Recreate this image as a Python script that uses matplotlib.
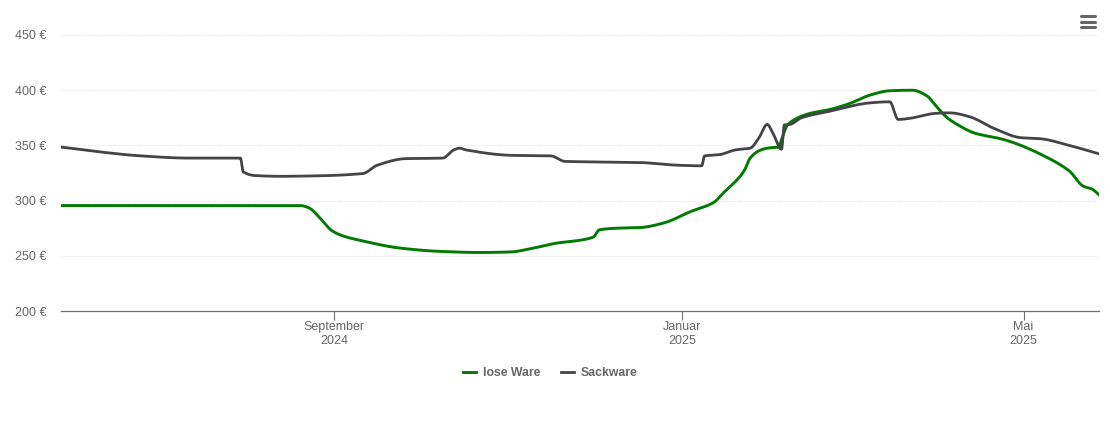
"""Preisverlauf lose Ware / Sackware, one year, monthly ticks every four months."""

import matplotlib

matplotlib.use("Agg")
import matplotlib.dates as mdates
import matplotlib.pyplot as plt
import numpy as np
import pandas as pd
from matplotlib.lines import Line2D

plt.rcParams["font.family"] = ["Liberation Sans", "DejaVu Sans"]

lose_dates = [
    "2024-05-28", "2024-08-20", "2024-08-23", "2024-08-27", "2024-08-31", "2024-09-04",
    "2024-09-10", "2024-09-24", "2024-10-08", "2024-10-22", "2024-11-02", "2024-11-09",
    "2024-11-18", "2024-11-26", "2024-12-01", "2024-12-03", "2024-12-09", "2024-12-17",
    "2024-12-26", "2025-01-04", "2025-01-12", "2025-01-16", "2025-01-21", "2025-01-23",
    "2025-01-25", "2025-01-28", "2025-01-31", "2025-02-04", "2025-02-05", "2025-02-07",
    "2025-02-10", "2025-02-15", "2025-02-22", "2025-03-01", "2025-03-08", "2025-03-15",
    "2025-03-23", "2025-03-28", "2025-03-31", "2025-04-04", "2025-04-08", "2025-04-14",
    "2025-04-23", "2025-04-28", "2025-05-07", "2025-05-17", "2025-05-22", "2025-05-25",
    "2025-05-28",
]
lose_values = [
    295.5, 295.5, 293.5, 284, 273, 268,
    264, 257, 254, 253, 253.5, 256.5,
    261.5, 264, 267, 273.5, 275, 275.5,
    280, 290, 298, 308, 320.5, 327.5,
    338.5, 345, 347.5, 348.5, 355, 368,
    374, 379, 382.5, 388, 395.5, 399.5,
    400, 395, 386.5, 375.5, 368.5, 361,
    356, 352, 342, 327, 313, 310.5,
    304,
]

sack_dates = [
    "2024-05-28", "2024-06-11", "2024-06-25", "2024-07-12", "2024-07-30", "2024-07-31",
    "2024-08-04", "2024-08-13", "2024-08-27", "2024-09-11", "2024-09-16", "2024-09-26",
    "2024-10-09", "2024-10-13", "2024-10-15", "2024-10-17", "2024-11-02", "2024-11-16",
    "2024-11-21", "2024-12-03", "2024-12-17", "2024-12-31", "2025-01-08", "2025-01-09",
    "2025-01-14", "2025-01-20", "2025-01-25", "2025-01-28", "2025-01-31", "2025-02-02",
    "2025-02-05", "2025-02-06", "2025-02-08", "2025-02-12", "2025-02-22", "2025-03-08",
    "2025-03-15", "2025-03-18", "2025-03-22", "2025-03-31", "2025-04-05", "2025-04-12",
    "2025-04-21", "2025-04-30", "2025-05-07", "2025-05-17", "2025-05-28",
]
sack_values = [
    348.5, 344, 340.5, 338.5, 338.5, 326,
    322.7, 322, 322.5, 324.5, 332, 338,
    338.5, 346, 347.5, 346, 341, 340.5,
    335.5, 335, 334.5, 332, 331.5, 340.5,
    341.5, 346, 347.5, 356.5, 369, 361,
    346.5, 368.5, 369, 375, 381, 388.5,
    389.5, 373.5, 374.5, 379, 379.5, 376,
    365, 357, 356, 350, 342,
]

y_ticks = [200, 250, 300, 350, 400, 450]
x_ticks = ["2024-09-01", "2025-01-01", "2025-05-01"]
x_labels = ["September\n2024", "Januar\n2025", "Mai\n2025"]

GREEN = "#007a00"
GREY = "#434348"
TEXT = "#666666"


def smooth(dates, values, per_seg=12):
    """Monotone cubic through the points, so the line has the rounded look of the original."""
    x = mdates.date2num(pd.to_datetime(dates))
    y = np.asarray(values, dtype=float)
    dx = np.diff(x)
    s = np.diff(y) / dx
    m = np.zeros_like(y)
    m[0], m[-1] = s[0], s[-1]
    for i in range(1, len(y) - 1):
        if s[i - 1] * s[i] > 0:
            m[i] = 2 * s[i - 1] * s[i] / (s[i - 1] + s[i])
    xs, ys = [], []
    for i in range(len(dx)):
        t = np.linspace(0, 1, per_seg, endpoint=False)
        xs.append(x[i] + t * dx[i])
        ys.append(
            (2 * t**3 - 3 * t**2 + 1) * y[i]
            + (t**3 - 2 * t**2 + t) * dx[i] * m[i]
            + (-2 * t**3 + 3 * t**2) * y[i + 1]
            + (t**3 - t**2) * dx[i] * m[i + 1]
        )
    xs.append(x[-1:])
    ys.append(y[-1:])
    return np.concatenate(xs), np.concatenate(ys)


W, H = 1110, 422
fig = plt.figure(figsize=(W / 100, H / 100), dpi=100)
ax = fig.add_axes([61 / W, 1 - 311 / H, (1099 - 61) / W, (311 - 35) / H])

ax.plot(*smooth(lose_dates, lose_values), color=GREEN, lw=2.1, label="lose Ware", zorder=3)
ax.plot(*smooth(sack_dates, sack_values), color=GREY, lw=2.0, label="Sackware", zorder=4)

ax.set_xlim(mdates.date2num(pd.Timestamp("2024-05-28")), mdates.date2num(pd.Timestamp("2025-05-27 12:00")))
ax.set_ylim(200, 450)

ax.set_yticks(y_ticks)
ax.set_yticklabels([f"{v} €" for v in y_ticks], color=TEXT, fontsize=9)
ax.tick_params(axis="y", length=0, pad=10.5)
ax.grid(axis="y", color="#e6e6e6", lw=0.8, ls=(0, (1, 1)))
ax.set_axisbelow(True)

ax.set_xticks(mdates.date2num(pd.to_datetime(x_ticks)))
ax.set_xticklabels(x_labels, color=TEXT, fontsize=9, linespacing=1.22)
ax.tick_params(axis="x", length=6.5, width=0.8, color="#707070", pad=1)

for side in ("top", "left", "right"):
    ax.spines[side].set_visible(False)
ax.spines["bottom"].set_color("#707070")
ax.spines["bottom"].set_linewidth(0.9)

fig.legend(
    loc="center",
    bbox_to_anchor=(550 / W, 1 - 373 / H),
    ncols=2,
    frameon=False,
    labelcolor=TEXT,
    prop={"weight": "bold", "size": 8.8},
    handlelength=1.05,
    handletextpad=0.55,
    columnspacing=1.7,
    borderpad=0,
)

# export menu icon, top right
for y_px in (16, 21.5, 26.5):
    fig.add_artist(
        Line2D(
            [1081 / W, 1095 / W],
            [1 - y_px / H] * 2,
            color=TEXT,
            lw=2.2,
            solid_capstyle="round",
            transform=fig.transFigure,
        )
    )

fig.savefig("out.png", dpi=100)
